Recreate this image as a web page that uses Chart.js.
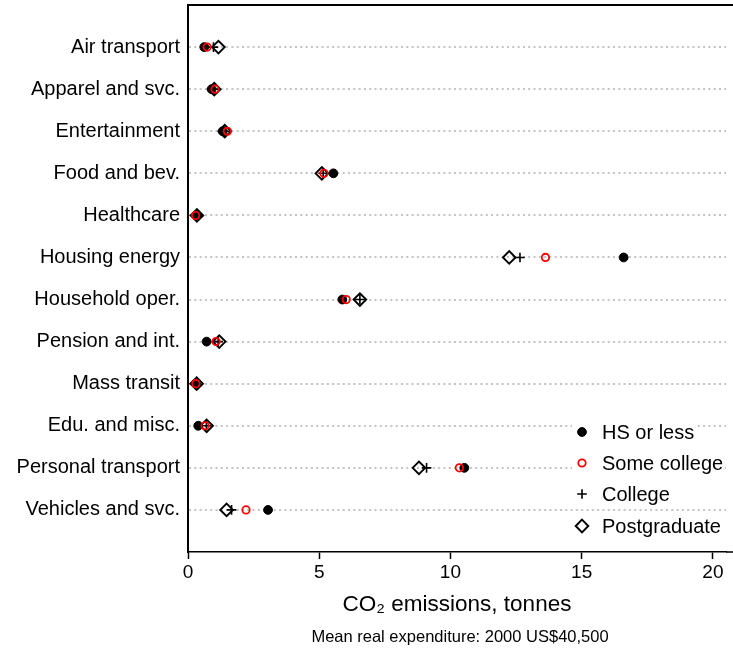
<!DOCTYPE html>
<html>
<head>
<meta charset="utf-8">
<script src="https://cdn.jsdelivr.net/npm/chart.js@4.4.0/dist/chart.umd.min.js"></script>
<style>
  html, body { margin: 0; padding: 0; background: #ffffff; }
  canvas { display: block; }
</style>
</head>
<body>
<canvas id="chart" width="733" height="652"></canvas>
<script>
// Spending categories, listed top to bottom
const categories = [
  'Air transport', 'Apparel and svc.', 'Entertainment', 'Food and bev.',
  'Healthcare', 'Housing energy', 'Household oper.', 'Pension and int.',
  'Mass transit', 'Edu. and misc.', 'Personal transport', 'Vehicles and svc.'
];

// CO2 emissions (tonnes) by education level
const hsOrLess     = [0.62, 0.90, 1.32, 5.54, 0.35, 16.60, 5.88, 0.71, 0.30, 0.39, 10.53, 3.05];
const someCollege  = [0.73, 1.03, 1.50, 5.18, 0.29, 13.62, 6.03, 1.07, 0.30, 0.65, 10.34, 2.21];
const college      = [0.97, 1.00, 1.40, 5.15, 0.33, 12.65, 6.55, 1.15, 0.32, 0.70,  9.09, 1.66];
const postgraduate = [1.16, 1.00, 1.40, 5.10, 0.34, 12.24, 6.55, 1.19, 0.33, 0.71,  8.80, 1.47];

const seriesNames = ['HS or less', 'Some college', 'College', 'Postgraduate'];
const xTickValues = [0, 5, 10, 15, 20];
const xTitle = 'CO\u2082 emissions, tonnes';
const note = 'Mean real expenditure: 2000 US$40,500';

const FONT = '"Liberation Sans", Arial, Helvetica, sans-serif';

const toPoints = vals => vals.map((v, i) => ({ x: v, y: i + 1 }));

const styles = [
  { pointStyle: 'circle',  radius: 4.4, fill: '#000000', stroke: '#000000', width: 1 },
  { pointStyle: 'circle',  radius: 3.7, fill: 'rgba(0,0,0,0)', stroke: '#ff0000', width: 1.8 },
  { pointStyle: 'cross',   radius: 4.8, fill: 'rgba(0,0,0,0)', stroke: '#000000', width: 1.6 },
  { pointStyle: 'rectRot', radius: 6.3, fill: 'rgba(0,0,0,0)', stroke: '#000000', width: 1.9 }
];
// drawing order: red circles on top, then diamonds, crosses, dots
const drawOrder = [3, 0, 2, 1];

const seriesData = [hsOrLess, someCollege, college, postgraduate];

const datasets = seriesData.map((vals, k) => ({
  label: seriesNames[k],
  data: toPoints(vals),
  pointStyle: styles[k].pointStyle,
  pointRadius: styles[k].radius,
  pointHoverRadius: styles[k].radius,
  pointBackgroundColor: styles[k].fill,
  pointBorderColor: styles[k].stroke,
  pointBorderWidth: styles[k].width,
  showLine: false,
  order: drawOrder[k]
}));

function drawMarker(ctx, s, x, y) {
  ctx.save();
  ctx.lineWidth = s.width;
  ctx.strokeStyle = s.stroke;
  ctx.fillStyle = s.fill;
  ctx.beginPath();
  const r = s.radius;
  if (s.pointStyle === 'circle') {
    ctx.arc(x, y, r, 0, Math.PI * 2);
    ctx.fill();
    ctx.stroke();
  } else if (s.pointStyle === 'cross') {
    ctx.moveTo(x - r, y); ctx.lineTo(x + r, y);
    ctx.moveTo(x, y - r); ctx.lineTo(x, y + r);
    ctx.stroke();
  } else {
    ctx.moveTo(x, y - r); ctx.lineTo(x + r, y);
    ctx.lineTo(x, y + r); ctx.lineTo(x - r, y);
    ctx.closePath();
    ctx.stroke();
  }
  ctx.restore();
}

// Frame lines, in-plot key and the expenditure note
const decorations = {
  id: 'decorations',
  afterDraw(chart) {
    const { ctx, chartArea } = chart;
    const W = chart.width;
    ctx.save();
    ctx.strokeStyle = '#000000';
    ctx.lineWidth = 2;
    ctx.beginPath();
    ctx.moveTo(chartArea.left - 1, chartArea.top);
    ctx.lineTo(W, chartArea.top);
    ctx.stroke();
    ctx.lineWidth = 1.5;
    ctx.beginPath();
    ctx.moveTo(chartArea.right, chartArea.bottom);
    ctx.lineTo(W, chartArea.bottom);
    ctx.stroke();

    // key
    ctx.font = '20px ' + FONT;
    ctx.textBaseline = 'middle';
    ctx.textAlign = 'left';
    const keyX = 582, textX = 602;
    const rows = [432, 463, 494, 526];
    seriesNames.forEach((name, k) => {
      const w = ctx.measureText(name).width;
      ctx.fillStyle = '#ffffff';
      ctx.fillRect(keyX - 10, rows[k] - 12, textX + w - keyX + 12, 24);
      drawMarker(ctx, styles[k], keyX, rows[k]);
      ctx.fillStyle = '#000000';
      ctx.fillText(name, textX, rows[k] + 1);
    });

    // note below the axis title
    ctx.font = '16.5px ' + FONT;
    ctx.textAlign = 'center';
    ctx.fillStyle = '#000000';
    ctx.fillText(note, (chartArea.left + chartArea.right) / 2 + 3, 637);
    ctx.restore();
  }
};

new Chart(document.getElementById('chart'), {
  type: 'scatter',
  data: { datasets },
  plugins: [decorations],
  options: {
    responsive: false,
    devicePixelRatio: 1,
    animation: false,
    layout: { autoPadding: false, padding: { top: 5, right: 7, bottom: 30, left: 0 } },
    plugins: {
      legend: { display: false },
      tooltip: { enabled: false }
    },
    scales: {
      x: {
        type: 'linear',
        min: 0,
        max: 20.5,
        afterBuildTicks: scale => { scale.ticks = xTickValues.map(v => ({ value: v })); },
        afterFit: scale => { scale.height = 70; scale.paddingLeft = 0; scale.paddingRight = 0; },
        ticks: {
          font: { family: FONT, size: 19 },
          color: '#000000',
          padding: 2,
          maxRotation: 0,
          autoSkip: false
        },
        grid: {
          drawOnChartArea: false,
          drawTicks: true,
          tickLength: 7,
          tickColor: '#000000',
          tickWidth: 1.5
        },
        border: { display: true, color: '#000000', width: 1.5 },
        title: {
          display: true,
          text: xTitle,
          color: '#000000',
          font: { family: FONT, size: 22.5 },
          padding: { top: 4, bottom: 4 }
        }
      },
      y: {
        type: 'linear',
        reverse: true,
        min: 0,
        max: categories.length + 1,
        afterBuildTicks: scale => {
          const t = [];
          for (let i = 0; i <= categories.length + 1; i++) t.push({ value: i });
          scale.ticks = t;
        },
        afterFit: scale => { scale.width = 188; scale.paddingTop = 0; scale.paddingBottom = 0; },
        ticks: {
          font: { family: FONT, size: 20 },
          color: '#000000',
          padding: 8,
          autoSkip: false,
          callback: v => (v >= 1 && v <= categories.length) ? categories[v - 1] : ''
        },
        grid: {
          drawTicks: false,
          lineWidth: 2,
          color: ctx => (ctx.tick && ctx.tick.value >= 1 && ctx.tick.value <= categories.length)
            ? '#c4c4c4' : 'rgba(0,0,0,0)'
        },
        border: { display: true, color: '#000000', width: 2, dash: [2, 3.3] }
      }
    }
  }
});
</script>
</body>
</html>
